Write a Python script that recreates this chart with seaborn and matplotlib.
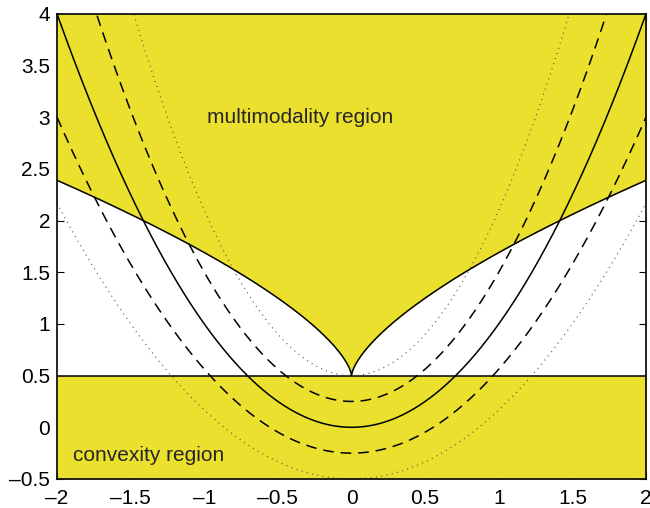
import numpy as np
import pandas as pd
import matplotlib
matplotlib.use("Agg")
import matplotlib.pyplot as plt
import seaborn as sns

# Parabola family y = curvature * x^2 + vertex
vertices = [-0.5, -0.25, 0.0, 0.25, 0.5]
curvatures = [0.667, 0.8125, 1.0, 1.25, 1.6]
styles = ["dotted", "dashed", "solid", "dashed", "dotted"]

# Multimodality boundary y = cusp + scale * |x|^exponent
boundary_cusp = 0.5
boundary_scale = 1.19
boundary_exponent = 2.0 / 3.0

# Convexity region lies below this level
convexity_level = 0.5

x_ticks = [-2, -1.5, -1, -0.5, 0, 0.5, 1, 1.5, 2]
y_ticks = [-0.5, 0, 0.5, 1, 1.5, 2, 2.5, 3, 3.5, 4]
x_lim = (-2, 2)
y_lim = (-0.5, 4)

yellow = "#ebe02e"

sns.set_style("ticks")
plt.rcParams["font.family"] = ["Liberation Sans", "DejaVu Sans"]

fig = plt.figure(figsize=(6.5, 5.08), dpi=100)
ax = fig.add_axes([0.0877, 0.0571, 0.9062, 0.9159])

x = np.linspace(x_lim[0], x_lim[1], 2001)
boundary = boundary_cusp + boundary_scale * np.abs(x) ** boundary_exponent

# shaded regions
ax.fill_between(x, y_lim[0], convexity_level, color=yellow, lw=0, zorder=3)
ax.fill_between(x, boundary, y_lim[1], color=yellow, lw=0, zorder=3)

# region borders
ax.axhline(convexity_level, color="black", lw=1.1, zorder=4)
sns.lineplot(x=x, y=boundary, color="black", lw=1.1, ax=ax, zorder=4)

# parabola family
rows = []
for k, (v, c) in enumerate(zip(vertices, curvatures)):
    rows.append(pd.DataFrame({"x": x, "y": c * x ** 2 + v, "curve": k}))
df = pd.concat(rows, ignore_index=True)

for k, s in enumerate(styles):
    sub = df[df["curve"] == k]
    lw = 0.9 if s == "dotted" else 1.1
    col = "#555555" if s == "dotted" else "black"
    sns.lineplot(data=sub, x="x", y="y", color=col, lw=lw, ax=ax, zorder=4)
    if s == "dashed":
        ax.lines[-1].set_dashes((7, 4.5))
    elif s == "dotted":
        ax.lines[-1].set_dashes((0.8, 3.5))

ax.text(-0.35, 3.0, "multimodality region", fontsize=15, ha="center", va="center", zorder=6)
ax.text(-1.38, -0.27, "convexity region", fontsize=15, ha="center", va="center", zorder=6)

ax.set_xlim(*x_lim)
ax.set_ylim(*y_lim)
ax.set_xticks(x_ticks)
ax.set_yticks(y_ticks)
ax.set_xticklabels([f"{t:g}".replace("-", "\u2013") for t in x_ticks])
ax.set_yticklabels([f"{t:g}".replace("-", "\u2013") for t in y_ticks])
ax.tick_params(direction="in", length=5, width=0.8, labelsize=15,
               top=True, right=True, colors="black", pad=5)
ax.tick_params(axis="x", pad=7)
ax.set_xlabel("")
ax.set_ylabel("")
for sp in ax.spines.values():
    sp.set_visible(True)
    sp.set_linewidth(1.2)
    sp.set_color("black")
    sp.set_zorder(7)

fig.savefig("out.png", dpi=100)
